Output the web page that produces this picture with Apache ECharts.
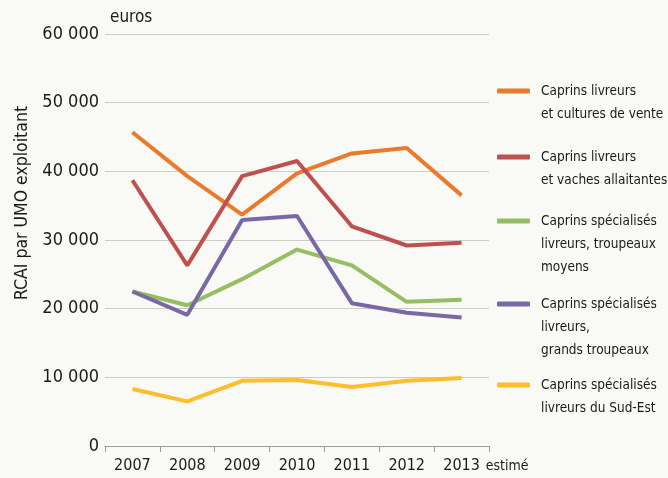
<!DOCTYPE html>
<html>
<head>
<meta charset="utf-8">
<script src="https://cdn.jsdelivr.net/npm/echarts@6/dist/echarts.min.js"></script>
<style>
  html, body { margin: 0; padding: 0; background: #f9f9f5; }
  #main { width: 668px; height: 478px; }
</style>
</head>
<body>
<div id="main"></div>
<script>
var years = ['2007', '2008', '2009', '2010', '2011', '2012', '2013'];
var yTicks = [0, 10000, 20000, 30000, 40000, 50000, 60000];

var culturesVente = [45700, 39300, 33700, 39700, 42600, 43400, 36500];
var vachesAllaitantes = [38700, 26300, 39300, 41500, 32000, 29200, 29600];
var troupeauxMoyens = [22500, 20500, 24300, 28600, 26300, 21000, 21300];
var grandsTroupeaux = [22500, 19100, 32900, 33500, 20800, 19400, 18700];
var sudEst = [8300, 6500, 9500, 9600, 8600, 9500, 9900];

var names = [
  'Caprins livreurs\net cultures de vente',
  'Caprins livreurs\net vaches allaitantes',
  'Caprins spécialisés\nlivreurs, troupeaux\nmoyens',
  'Caprins spécialisés\nlivreurs,\ngrands troupeaux',
  'Caprins spécialisés\nlivreurs du Sud-Est'
];
var colors = ['#ea7a2c', '#c0504d', '#93bf62', '#7a68a6', '#fdbd2e'];
var values = [culturesVente, vachesAllaitantes, troupeauxMoyens, grandsTroupeaux, sudEst];
var legendLineCenters = [91, 157, 221, 304, 385];

var font = '"DejaVu Sans Condensed", "Liberation Sans Narrow", sans-serif';
var lineH = 23;

// one legend per entry so the swatch lines up with the first line of text
var legends = names.map(function (n, i) {
  var lines = n.split('\n').length;
  var pad = '';
  for (var k = 1; k < lines; k++) pad += '\n';
  return {
    left: 497,
    top: legendLineCenters[i] - (lines - 1) * lineH - lineH / 2,
    padding: 0,
    selectedMode: false,
    icon: 'roundRect',
    itemWidth: 33,
    itemHeight: 5,
    data: [{ name: n, itemStyle: { color: colors[i] } }],
    formatter: function (name) { return pad + name; },
    textStyle: {
      fontFamily: font, fontSize: 13.5, color: '#1a1a1a',
      lineHeight: lineH, padding: [0, 0, 0, 6]
    }
  };
});

var series = names.map(function (n, i) {
  return {
    name: n,
    type: 'line',
    data: values[i],
    symbol: 'none',
    color: colors[i],
    lineStyle: { width: 4, color: colors[i] }
  };
});

var chart = echarts.init(document.getElementById('main'));
chart.setOption({
  backgroundColor: '#f9f9f5',
  animation: false,
  grid: { left: 105, right: 179, top: 34, bottom: 32 },
  legend: legends,
  xAxis: {
    type: 'category',
    data: years,
    boundaryGap: true,
    name: 'estimé',
    nameLocation: 'end',
    nameGap: -9,
    nameTextStyle: {
      fontFamily: font, fontSize: 14, color: '#1a1a1a',
      align: 'left', verticalAlign: 'top', padding: [13, 0, 0, 0]
    },
    axisLine: { lineStyle: { color: '#9a9a9a', width: 1 } },
    axisTick: { show: true, length: 6, lineStyle: { color: '#9a9a9a' } },
    axisLabel: { interval: 0, fontFamily: font, fontSize: 16, color: '#1a1a1a', margin: 12 }
  },
  yAxis: {
    type: 'value',
    min: yTicks[0],
    max: yTicks[yTicks.length - 1],
    interval: 10000,
    name: 'euros',
    nameLocation: 'end',
    nameGap: 16,
    nameTextStyle: {
      fontFamily: font, fontSize: 17, color: '#1a1a1a',
      align: 'left', verticalAlign: 'middle', padding: [0, 0, 0, 5]
    },
    axisLine: { show: false },
    axisTick: { show: false },
    splitLine: { lineStyle: { color: '#cdcdc8', width: 1 } },
    axisLabel: {
      fontFamily: font, fontSize: 18, color: '#1a1a1a', margin: 6,
      formatter: function (v) {
        return String(v).replace(/\B(?=(\d{3})+(?!\d))/g, ' ');
      }
    }
  },
  graphic: [{
    type: 'text',
    x: 22,
    y: 203,
    rotation: Math.PI / 2,
    style: {
      text: 'RCAI par UMO exploitant',
      fontFamily: font, fontSize: 17.5, fill: '#1a1a1a',
      align: 'center', verticalAlign: 'middle'
    }
  }],
  series: series
});
</script>
</body>
</html>
